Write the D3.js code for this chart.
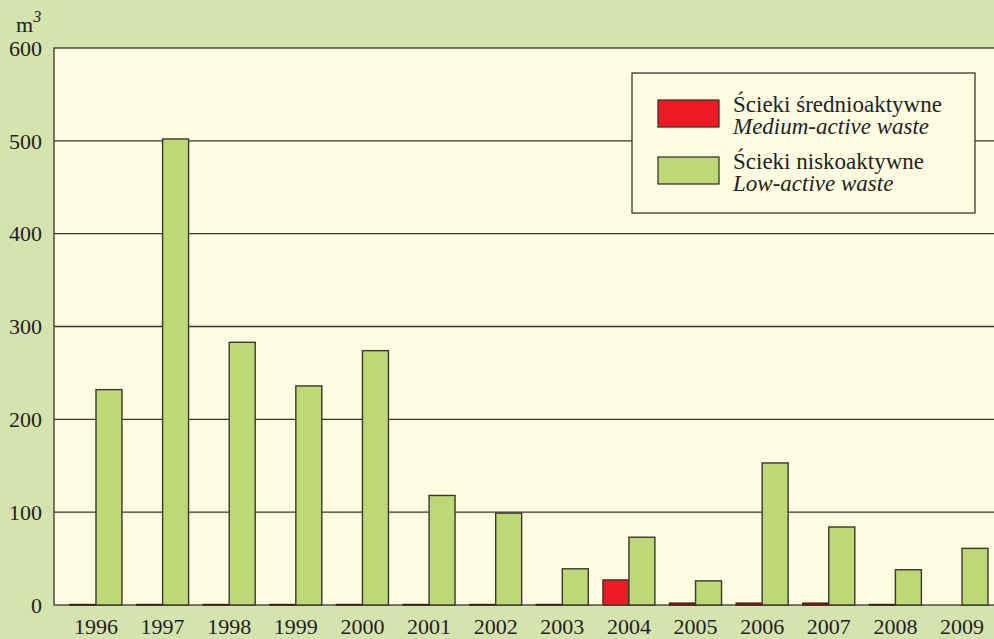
<!DOCTYPE html>
<html>
<head>
<meta charset="utf-8">
<script src="https://cdn.jsdelivr.net/npm/d3@7"></script>
<style>
  html, body { margin: 0; padding: 0; background: #D5E3AE; }
  svg { display: block; }
  text { font-family: "Liberation Serif", "DejaVu Serif", serif; fill: #231f20; }
</style>
</head>
<body>
<svg id="chart" width="994" height="639"></svg>
<script>
// Liquid radioactive waste volumes, m³ per year
const years = ["1996","1997","1998","1999","2000","2001","2002","2003","2004","2005","2006","2007","2008","2009"];
const mediumActive = [0.5, 0.5, 0.5, 0.5, 0.5, 0.5, 0.5, 0.5, 27, 2, 2, 2, 0.5, 0];
const lowActive    = [232, 502, 283, 236, 274, 118, 99, 39, 73, 26, 153, 84, 38, 61];
const yTicks = [0, 100, 200, 300, 400, 500, 600];
const seriesNames = [
  { pl: "Ścieki średnioaktywne", en: "Medium-active waste", color: "#ED1C24", key: "medium" },
  { pl: "Ścieki niskoaktywne",   en: "Low-active waste",    color: "#BDD876", key: "low" }
];

const svg = d3.select("#chart");
const W = 994, H = 639;
const plot = { left: 54, top: 48, right: 1004, bottom: 605 };

const rows = years.map((y, i) => ({ year: y, medium: mediumActive[i], low: lowActive[i] }));

const x = d3.scaleBand().domain(years)
  .range([plot.left, plot.right]).paddingInner(0.22).paddingOuter(0.24);
const xInner = d3.scaleBand().domain(["medium", "low"]).range([0, x.bandwidth()]);
const y = d3.scaleLinear().domain([0, 600]).range([plot.bottom, plot.top]);

// plot background
svg.append("rect")
  .attr("x", plot.left).attr("y", plot.top)
  .attr("width", plot.right - plot.left + 20).attr("height", plot.bottom - plot.top)
  .attr("fill", "#FFFCE2").attr("stroke", "#3a372c").attr("stroke-width", 1.3);

// horizontal gridlines
svg.append("g").selectAll("line")
  .data(yTicks.filter(t => t > 0 && t < 600))
  .join("line")
  .attr("x1", plot.left).attr("x2", W + 10)
  .attr("y1", d => y(d)).attr("y2", d => y(d))
  .attr("stroke", "#3a372c").attr("stroke-width", 1.3);

// y tick labels
svg.append("g").selectAll("text")
  .data(yTicks)
  .join("text")
  .attr("x", 42).attr("y", d => y(d))
  .attr("dy", "0.35em")
  .attr("text-anchor", "end")
  .attr("font-size", 22)
  .text(d => d);

// unit label
const unit = svg.append("text").attr("x", 16).attr("y", 32).attr("font-size", 22);
unit.append("tspan").text("m");
unit.append("tspan").attr("font-size", 16).attr("font-style", "italic").attr("dy", -10).text("3");

// bars
const groups = svg.append("g").selectAll("g")
  .data(rows)
  .join("g")
  .attr("transform", d => `translate(${x(d.year)},0)`);

groups.selectAll("rect")
  .data(d => seriesNames.map(s => ({ key: s.key, color: s.color, value: d[s.key] })).filter(v => v.value > 0))
  .join("rect")
  .attr("x", d => xInner(d.key))
  .attr("width", xInner.bandwidth())
  .attr("y", d => y(d.value))
  .attr("height", d => y(0) - y(d.value))
  .attr("fill", d => d.color)
  .attr("stroke", d => d.key === "medium" && d.value < 5 ? "#3b1a14" : "#3a372c")
  .attr("stroke-width", 1.4);

// x labels
svg.append("g").selectAll("text")
  .data(years)
  .join("text")
  .attr("x", d => x(d) + x.bandwidth() / 2)
  .attr("y", 634)
  .attr("text-anchor", "middle")
  .attr("font-size", 22)
  .text(d => d);

// legend
const lg = svg.append("g");
lg.append("rect")
  .attr("x", 632).attr("y", 73).attr("width", 343).attr("height", 140)
  .attr("fill", "#FFFCE2").attr("stroke", "#3a372c").attr("stroke-width", 1.3);
seriesNames.forEach((s, i) => {
  const oy = 100 + i * 57;
  lg.append("rect")
    .attr("x", 658).attr("y", oy).attr("width", 61).attr("height", 27)
    .attr("fill", s.color).attr("stroke", "#3a372c").attr("stroke-width", 1.3);
  lg.append("text").attr("x", 733).attr("y", oy + 12).attr("font-size", 23).text(s.pl);
  lg.append("text").attr("x", 733).attr("y", oy + 34).attr("font-size", 23)
    .attr("font-style", "italic").text(s.en);
});
</script>
</body>
</html>
